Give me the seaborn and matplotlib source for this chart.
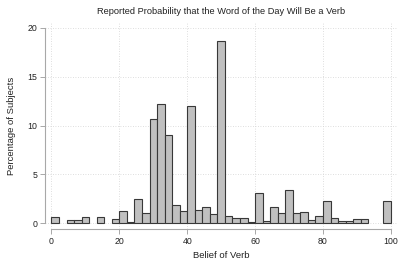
import numpy as np
import pandas as pd
import matplotlib
matplotlib.use("Agg")
import matplotlib.pyplot as plt
import seaborn as sns

# percentage of subjects in each of 45 equal bins over 0-100
pct = [0.61, 0.0, 0.31, 0.31, 0.61, 0.0, 0.61, 0.0, 0.41, 1.26,
       0.10, 2.45, 1.05, 10.65, 12.19, 9.07, 1.87, 1.22, 12.04, 1.39,
       1.70, 0.92, 18.64, 0.75, 0.58, 0.58, 0.10, 3.07, 0.27, 1.71,
       1.06, 3.38, 1.06, 1.19, 0.31, 0.75, 2.32, 0.58, 0.27, 0.27,
       0.41, 0.41, 0.0, 0.0, 2.32]
x_ticks = [0, 20, 40, 60, 80, 100]
y_ticks = [0, 5, 10, 15, 20]

edges = np.linspace(0, 100, len(pct) + 1)
df = pd.DataFrame({'belief': (edges[:-1] + edges[1:]) / 2, 'pct': pct})

sns.set_style("white")
plt.rcParams['font.family'] = ['Liberation Sans', 'DejaVu Sans']

fig = plt.figure(figsize=(4.07, 2.71), dpi=100)
ax = fig.add_axes([0.1106, 0.1539, 0.8648, 0.7610])

sns.histplot(data=df, x='belief', weights='pct', bins=len(pct), binrange=(0, 100),
             ax=ax, color='#c0c0c0', edgecolor='#383838', linewidth=0.8, alpha=1)
for p in ax.patches:
    if p.get_height() == 0:
        p.set_visible(False)

ax.set_xlim(-1.9, 101.8)
ax.set_ylim(-0.62, 20.5)
ax.set_xticks(x_ticks)
ax.set_yticks(y_ticks)
ax.grid(True, linestyle=(0, (1, 2)), color='#d4d4d4', linewidth=0.6)
ax.set_axisbelow(True)

for s in ['top', 'right']:
    ax.spines[s].set_visible(False)
ax.spines['left'].set_bounds(0, 20)
ax.spines['bottom'].set_bounds(0, 100)
for s in ['left', 'bottom']:
    ax.spines[s].set_color('#a8a8a8')
    ax.spines[s].set_linewidth(0.8)

ax.tick_params(axis='both', length=3.5, width=0.7, color='#a8a8a8',
               labelsize=6.3, labelcolor='#222222', pad=2, bottom=True, left=True)

ax.set_title('Reported Probability that the Word of the Day Will Be a Verb',
             fontsize=6.7, color='#222222', pad=6.5)
ax.set_xlabel('Belief of Verb', fontsize=6.8, color='#222222', labelpad=4)
ax.set_ylabel('Percentage of Subjects', fontsize=6.8, color='#222222', labelpad=8)

fig.savefig('out.png', dpi=100)
